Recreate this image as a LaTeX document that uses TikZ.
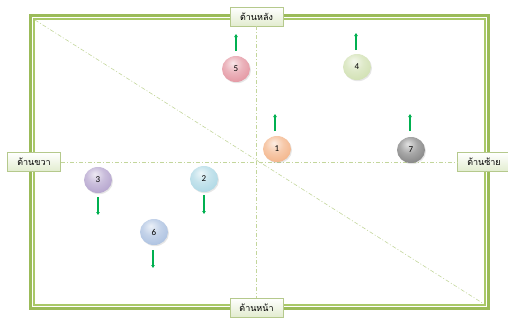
\documentclass[tikz,border=0pt]{standalone}
\usepackage{fontspec}
\setmainfont{Carlito}
\newfontfamily\thaifont[Script=Thai]{Loma}
\usetikzlibrary{shapes.geometric,arrows.meta,shadows}
\definecolor{frameg}{HTML}{9BBB59}
\definecolor{frameh}{HTML}{A9C868}
\definecolor{dashg}{HTML}{C3D69B}
\definecolor{boxb}{HTML}{B5C98C}
\definecolor{boxf}{HTML}{E2ECCF}
\definecolor{arrg}{HTML}{00B050}
\definecolor{cA}{HTML}{F4B88F}
\definecolor{cB}{HTML}{B2DAE6}
\definecolor{cC}{HTML}{B8A8D0}
\definecolor{cD}{HTML}{D3E2B6}
\definecolor{cE}{HTML}{E59BA6}
\definecolor{cF}{HTML}{B0C4E2}
\definecolor{cG}{HTML}{8A8A8A}
\makeatletter
\pgfdeclareradialshading[tikz@ball]{pastelball}{\pgfpoint{-6bp}{12bp}}{%
  color(0bp)=(tikz@ball!25!white);
  color(16bp)=(tikz@ball!75!white);
  color(30bp)=(tikz@ball);
  color(44bp)=(tikz@ball!82!black);
  color(62bp)=(tikz@ball!62!black)}
\makeatother
\tikzset{
  sidebox/.style={draw=boxb, line width=0.6pt, top color=white, bottom color=boxf,
    minimum width=53pt, minimum height=19pt, inner sep=1pt,
    font=\thaifont\fontsize{9}{10}\selectfont,
    drop shadow={shadow xshift=0.8pt, shadow yshift=-0.8pt, opacity=0.25}},
  pball/.style={ellipse, minimum width=28pt, minimum height=26pt, inner sep=0pt,
    ball color=#1, shading=pastelball, font=\fontsize{9}{10}\selectfont,
    drop shadow={shadow xshift=1pt, shadow yshift=-1.2pt, opacity=0.2}},
  guide/.style={dashg, line width=0.6pt, dash pattern=on 4pt off 2pt on 1pt off 2pt},
  mvarrow/.style={arrg, line width=1.4pt, -{Triangle[length=3pt,width=3.5pt]}}
}
\begin{document}
\begin{tikzpicture}[x=1pt,y=-1pt]
\useasboundingbox (0,0) rectangle (508,322);
% frame
\draw[frameg, line width=3.2pt] (30.5,15.5) rectangle (488.5,308.5);
\draw[frameh, line width=1.4pt] (34,19) rectangle (485,305);
\coordinate (tl) at (35,20);
\coordinate (br) at (484,304);
% side labels
\node[sidebox] (back) at (256.5,16.5) {ด้านหลัง};
\node[sidebox] (front) at (256.5,307.5) {ด้านหน้า};
\node[sidebox] (right) at (34,162) {ด้านขวา};
\node[sidebox] (left) at (484,162) {ด้านซ้าย};
% guides
\draw[guide] (tl) -- (br);
\draw[guide] (back.south) -- (front.north);
\draw[guide] (right.east) -- (left.west);
% balls
\node[pball=cA] (b1) at (277,149) {1};
\node[pball=cB] (b2) at (204,179) {2};
\node[pball=cC] (b3) at (98,180) {3};
\node[pball=cD] (b4) at (357,67) {4};
\node[pball=cE] (b5) at (236,69) {5};
\node[pball=cF] (b6) at (154,232) {6};
\node[pball=cG] (b7) at (411,150) {7};
% arrows
\coordinate (a1s) at (275,131); \coordinate (a1e) at (275,114);
\coordinate (a7s) at (410,131); \coordinate (a7e) at (410,114);
\coordinate (a5s) at (236,51); \coordinate (a5e) at (236,34);
\coordinate (a4s) at (356,50); \coordinate (a4e) at (356,33);
\coordinate (a3s) at (98,197); \coordinate (a3e) at (98,215);
\coordinate (a2s) at (204,195); \coordinate (a2e) at (204,214);
\coordinate (a6s) at (153,250); \coordinate (a6e) at (153,268);
\foreach \n in {1,7,5,4,3,2,6} {\draw[mvarrow] (a\n s) -- (a\n e);}
\end{tikzpicture}
\end{document}
